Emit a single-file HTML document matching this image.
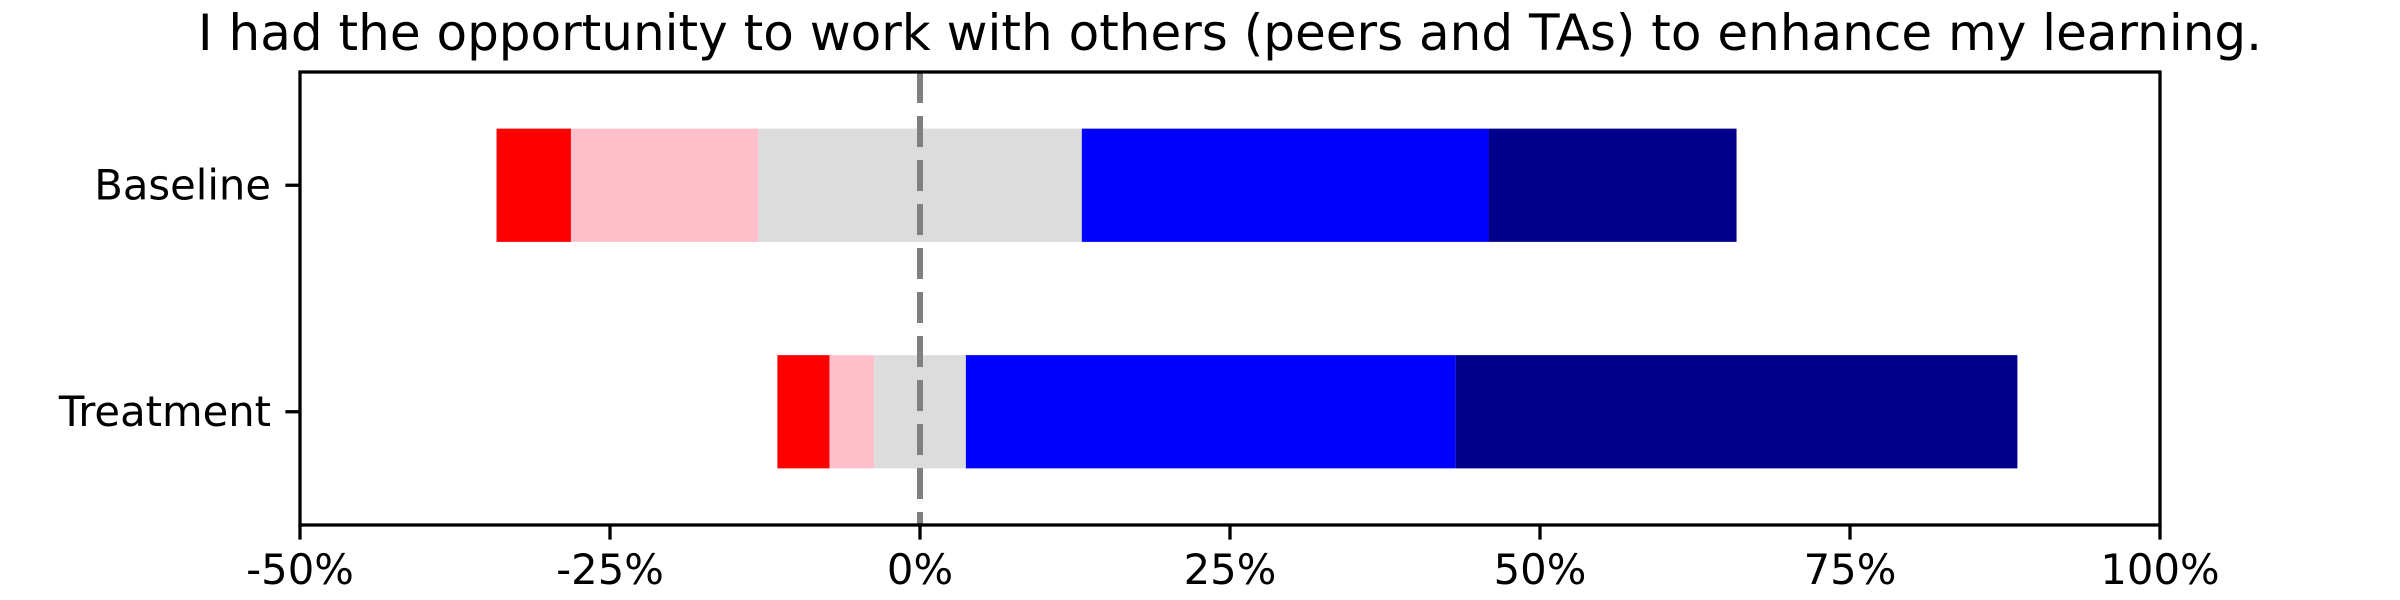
<!DOCTYPE html>
<html><head><meta charset="utf-8"><style>
html,body{margin:0;padding:0;background:#fff;}
svg{display:block;font-family:"DejaVu Sans","Liberation Sans",sans-serif;}
</style></head><body>
<svg id="chart" width="2400" height="600" viewBox="0 0 2400 600">
<text x="1230" y="50" font-size="50" text-anchor="middle" fill="#000">I had the opportunity to work with others (peers and TAs) to enhance my learning.</text>
<g id="bars"></g>
<g id="axes"></g>
</svg>
<script>
const categories = ["Baseline", "Treatment"];
const stronglyDisagree = [6.0, 4.2];
const disagree = [15.1, 3.6];
const neutral = [26.1, 7.4];
const agree = [32.8, 39.5];
const stronglyAgree = [20.0, 45.3];
const xTicks = [-50, -25, 0, 25, 50, 75, 100];
const xTickLabels = ["-50%", "-25%", "0%", "25%", "50%", "75%", "100%"];

const NS = "http://www.w3.org/2000/svg";
const L = 300, R = 2160, T = 72, B = 525;
const xMin = -50, xMax = 100;
function xs(v){ return L + (v - xMin) / (xMax - xMin) * (R - L); }
function ys(i){ return T + (i + 0.5) / 2 * (B - T); }
const bh = 0.5 / 2 * (B - T);
function mk(tag, attrs, parent){
  const e = document.createElementNS(NS, tag);
  for (const k in attrs) e.setAttribute(k, attrs[k]);
  parent.appendChild(e); return e;
}
const bars = document.getElementById("bars");
const axes = document.getElementById("axes");
const series = [
  {vals: stronglyDisagree, color: "#ff0000", name: "strongly-disagree"},
  {vals: disagree, color: "#ffc0cb", name: "disagree"},
  {vals: neutral, color: "#dcdcdc", name: "neutral"},
  {vals: agree, color: "#0000ff", name: "agree"},
  {vals: stronglyAgree, color: "#00008b", name: "strongly-agree"}
];
categories.forEach((c, i) => {
  let start = -(stronglyDisagree[i] + disagree[i] + neutral[i] / 2);
  series.forEach(s => {
    const v = s.vals[i];
    const r = mk("rect", {x: xs(start), y: ys(i) - bh / 2, width: xs(start + v) - xs(start), height: bh, fill: s.color}, bars);
    
    
    start += v;
  });
  const t = mk("line", {x1: L - 14.6, x2: L, y1: ys(i), y2: ys(i), stroke: "#000", "stroke-width": 3.3}, axes);
  
  
  const lab = mk("text", {x: L - 29, y: ys(i) + 14, "font-size": 41.7, "text-anchor": "end", fill: "#000"}, axes);
  lab.textContent = c;
  
  
});
const zl = mk("line", {x1: xs(0), x2: xs(0), y1: T, y2: B, stroke: "#808080", "stroke-width": 6, "stroke-dasharray": "31 13"}, axes);


const frame = mk("rect", {x: L, y: T, width: R - L, height: B - T, fill: "none", stroke: "#000", "stroke-width": 3.3}, axes);


xTicks.forEach((v, k) => {
  const t = mk("line", {x1: xs(v), x2: xs(v), y1: B, y2: B + 14.6, stroke: "#000", "stroke-width": 3.3}, axes);
  
  
  const lab = mk("text", {x: xs(v), y: B + 59, "font-size": 41.7, "text-anchor": "middle", fill: "#000"}, axes);
  lab.textContent = xTickLabels[k];
  
  
});
</script>
</body></html>
